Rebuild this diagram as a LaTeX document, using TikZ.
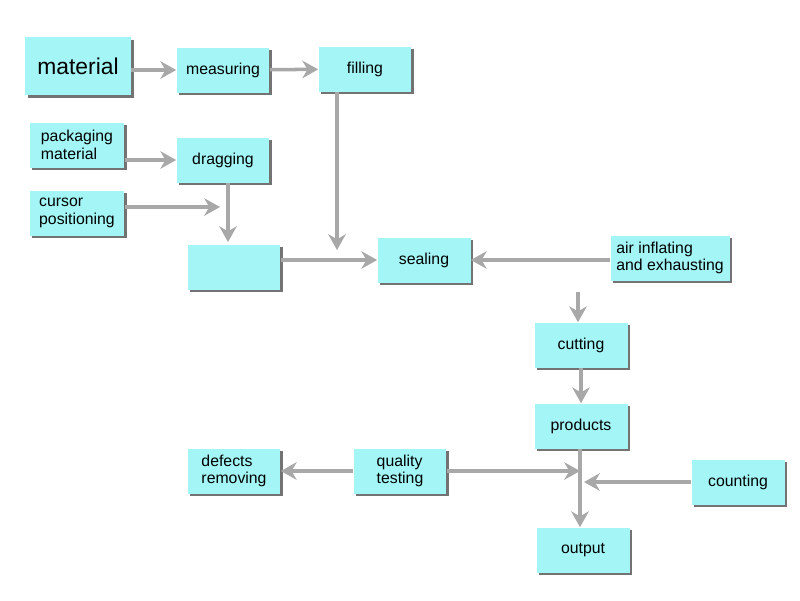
\documentclass[tikz,border=0pt]{standalone}
\usepackage{fontspec}
\setmainfont{Liberation Sans}
\usetikzlibrary{arrows.meta,positioning,shadows}
\definecolor{boxcyan}{HTML}{A4F6F6}
\definecolor{linegray}{HTML}{A8A8A8}
\tikzset{
	stepbox/.style={draw=none, fill=boxcyan, minimum width=1.86cm, minimum height=0.9cm, align=left, font=\fontsize{9}{10}\selectfont, drop shadow={shadow xshift=1.5pt, shadow yshift=-1.5pt, fill=black!55, opacity=1}},
	flow/.style={draw=linegray, line width=2pt, -{Stealth[length=9pt,width=10pt]}}
}
\begin{document}
\begin{tikzpicture}[x=0.02cm, y=-0.02cm]
		\useasboundingbox (0,0) rectangle (800,600);
		\node[stepbox, minimum width=2.12cm, minimum height=1.16cm, font=\fontsize{13}{15}\selectfont] (mat) at (78,66) {material};
		\node[stepbox] (meas) at (223,70) {measuring};
		\node[stepbox] (fill) at (365,69) {filling};
		\node[stepbox, minimum width=1.9cm] (pack) at (77,145) {packaging\\material};
		\node[stepbox] (drag) at (223,160) {dragging};
		\node[stepbox, minimum width=1.9cm] (curs) at (77,213) {cursor\\positioning};
		\node[stepbox] (form) at (234,267) {};
		\node[stepbox] (seal) at (424,260) {sealing};
		\node[stepbox, minimum width=2.2cm] (air) at (670,258) {air inflating\\and exhausting};
		\node[stepbox] (cut) at (581,345) {cutting};
		\node[stepbox] (prod) at (581,426) {products};
		\node[stepbox] (defe) at (234,471) {defects\\removing};
		\node[stepbox] (qual) at (400,471) {quality\\testing};
		\node[stepbox] (coun) at (738,482) {counting};
		\node[stepbox] (outp) at (583,550) {output};
		% junctions
		\coordinate (fd) at (337,250);
		\coordinate (cj) at (220,207);
		\coordinate (dj) at (228,242);
		\coordinate (sd) at (578,292);
		\coordinate (pj) at (580,471);
		\coordinate (kj) at (584,482);
		\draw[flow] (mat.east |- meas.west) -- (meas);
		\draw[flow] (meas) -- (fill);
		\draw[flow] (pack.east |- drag.west) -- (drag);
		\draw[flow] (curs.east |- cj) -- (cj);
		\draw[flow] (drag.south -| dj) -- (dj);
		\draw[flow] (fill.south -| fd) -- (fd);
		\draw[flow] (form.east |- seal.west) -- (seal.west);
		\draw[flow] (air.west |- seal.east) -- (seal.east);
		\draw[flow] (sd) -- (cut.north -| sd);
		\draw[flow] (cut) -- (prod);
		\draw[flow] (prod.south -| pj) -- (outp.north -| pj);
		\draw[flow] (coun) -- (kj);
		\draw[flow] (qual) -- (pj);
		\draw[flow] (qual) -- (defe);
	\end{tikzpicture}
\end{document}
